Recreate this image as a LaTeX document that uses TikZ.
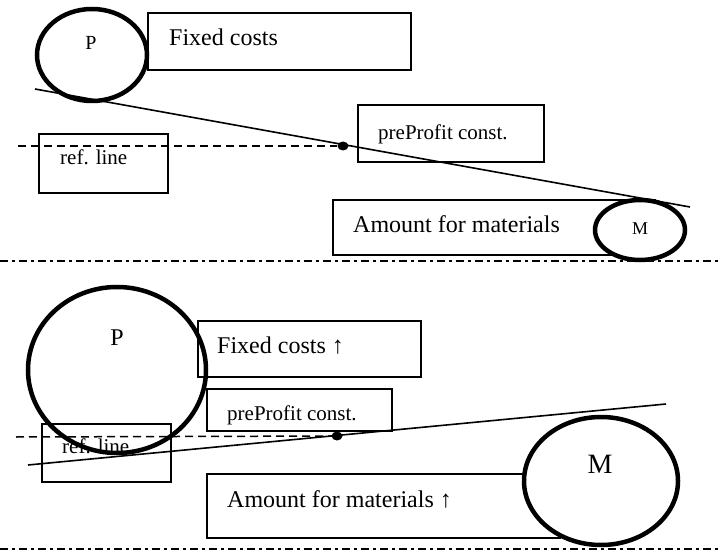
\documentclass[tikz,border=0pt]{standalone}
\usepackage{fontspec}
\setmainfont{Liberation Serif}
\usetikzlibrary{shapes.geometric}

\begin{document}
\begin{tikzpicture}[x=1pt,y=-1pt,
	boxline/.style={line width=1.1pt},
	ring/.style={line width=4.5pt},
	slope/.style={line width=1.6pt},
	refdash/.style={line width=1.5pt, dash pattern=on 8pt off 5pt},
	sepline/.style={line width=1.5pt, dash pattern=on 8pt off 4pt on 3pt off 4pt},
	big/.style={font=\fontsize{24}{28}\selectfont, anchor=base west, inner sep=0pt},
	small/.style={font=\fontsize{21}{25}\selectfont, anchor=base west, inner sep=0pt},
	letter/.style={anchor=base, inner sep=0pt},
	dot/.style={ellipse, fill=black, inner sep=0pt, minimum width=11pt, minimum height=9pt}]
\useasboundingbox (0,0) rectangle (720,553);
% separators
\coordinate (sepAl) at (0,261); \coordinate (sepAr) at (720,261);
\coordinate (sepBl) at (0,549); \coordinate (sepBr) at (720,549);
\draw[sepline] (sepAl) -- (sepAr);
\draw[sepline] (sepBl) -- (sepBr);

% upper part
\draw[boxline] (148,13) rectangle (411,70);
\draw[boxline] (39,134) rectangle (168,193);
\draw[boxline] (358,105) rectangle (544,162);
\draw[boxline] (333,200) rectangle (655,255);
\node[big] (fixA) at (169,46) {Fixed costs};
\node[small] (refA) at (60,165) {ref. line};
\node[small] (preA) at (378,140) {preProfit const.};
\node[big] (amtA) at (353,233) {Amount for materials};
\node[dot] (dotA) at (343,146) {};
\coordinate (refAl) at (18,146);
\draw[refdash] (refAl) -- (dotA);
\draw[ring] (92,55) ellipse [x radius=55pt, y radius=46pt];
\node[letter, font=\fontsize{20}{24}\selectfont] (pA) at (91,50) {P};
\draw[ring, fill=white] (640,230) ellipse [x radius=45pt, y radius=30pt];
\node[letter, font=\fontsize{18}{22}\selectfont] (mA) at (640,235) {M};
\coordinate (slAl) at (35,89); \coordinate (slAr) at (690,207);
\draw[slope] (slAl) -- (slAr);

% lower part
\draw[boxline] (198,321) rectangle (421,377);
\draw[boxline] (207,389) rectangle (392,431);
\draw[boxline] (42,424) rectangle (171,482);
\draw[boxline] (207,474) rectangle (560,538);
\node[big] (fixB) at (217,353) {Fixed costs ↑};
\node[small] (preB) at (227,420) {preProfit const.};
\node[small] (refB) at (62,453) {ref. line};
\node[big] (amtB) at (227,507) {Amount for materials ↑};
\node[dot] (dotB) at (337,436) {};
\coordinate (refBl) at (16,437);
\draw[refdash] (refBl) -- (dotB);
\draw[ring] (117,370) ellipse [x radius=89pt, y radius=83pt];
\node[letter, font=\fontsize{24}{28}\selectfont] (pB) at (117,345) {P};
\draw[ring, fill=white] (601,481) ellipse [x radius=77pt, y radius=64pt];
\node[letter, font=\fontsize{28}{32}\selectfont] (mB) at (600,473) {M};
\coordinate (slBl) at (28,465); \coordinate (slBr) at (666,404);
\draw[slope] (slBl) -- (slBr);
\end{tikzpicture}
\end{document}
